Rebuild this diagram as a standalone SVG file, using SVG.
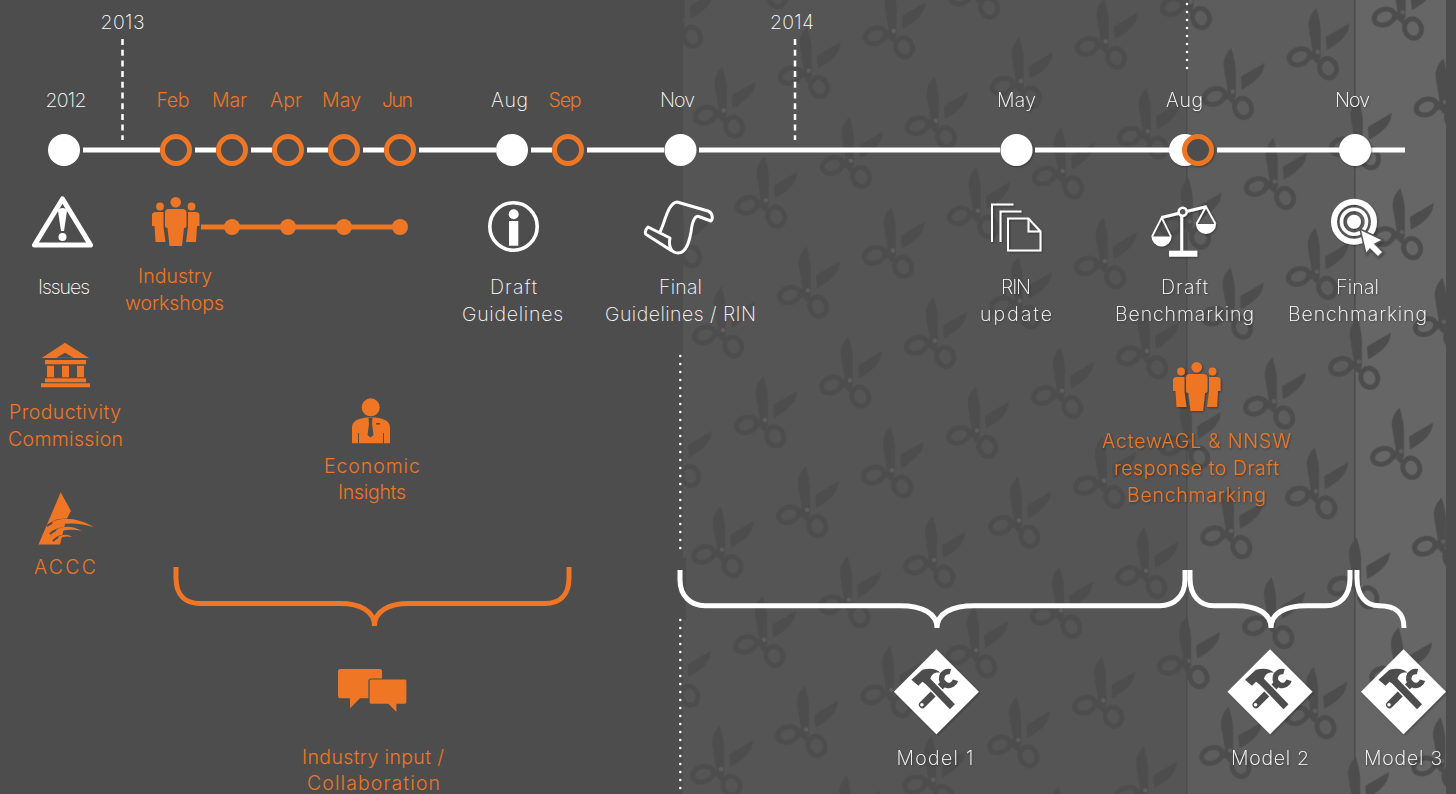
<svg xmlns="http://www.w3.org/2000/svg" width="1456" height="794" viewBox="0 0 1456 794">
<style>
text{font-family:"Inter","Lato","Liberation Sans",sans-serif;font-weight:200;font-size:19.5px;text-anchor:middle}
.w{fill:#fff}.o{fill:#ee7624;font-weight:300}
.line{fill:none;stroke:#fff;stroke-width:5}
.brace{fill:none;stroke-width:5}
.dash{fill:none;stroke:#fff;stroke-width:2.5;stroke-dasharray:6 4.7}
.dot{fill:none;stroke:#fff;stroke-width:2.6;stroke-dasharray:0 8;stroke-linecap:round}
.nw{fill:#fff}.no{fill:none;stroke:#ee7624;stroke-width:5}
.sh{filter:url(#shadow)}
.st{fill:none;stroke:#fff}
</style>
<defs>
<filter id="shadow" x="-20%" y="-20%" width="140%" height="140%"><feDropShadow dx="1" dy="1" stdDeviation="0.8" flood-color="#000" flood-opacity="0.35"/></filter>
<pattern id="sc" patternUnits="userSpaceOnUse" width="93.8" height="99.3" patternTransform="translate(765 420) rotate(-25.06) translate(-46.9 -49.65)">
<g transform="translate(46.9 49.65) rotate(25.06)">
<path fill="#4d4d4d" d="M-1.3-44C-7-38-10-32-9-24L-4 6C-2 9 2 8 3 5L3-22C3-30 0-38-1.3-44Z"/>
<path fill="#4d4d4d" d="M9-2L8-15L32-29C31-18 25-11 9-2Z"/>
<path fill="none" stroke="#4d4d4d" stroke-width="5" d="M-3 6L1 10"/>
<ellipse cx="10.3" cy="16.3" rx="8.4" ry="9.8" transform="rotate(-18 10.3 16.3)" fill="none" stroke="#4d4d4d" stroke-width="5"/>
<ellipse cx="-18.3" cy="4.8" rx="10.5" ry="7.6" transform="rotate(-20 -18.3 4.8)" fill="none" stroke="#4d4d4d" stroke-width="5"/>
<path fill="#4d4d4d" d="M-9 0L-2-2L0 6L-8 8Z"/>
<circle r="2.2" fill="#5f5f5f"/>
</g>
</pattern>
<symbol id="people" viewBox="0 0 48 49" width="48" height="49" overflow="visible">
<circle cx="23.7" cy="5.3" r="5.3"/>
<path d="M16 12H31Q34.5 12.5 34.5 16V29Q34.5 31 32 31L30 49H17.5L15.500 31Q13 31 13 29V16Q13 12.500 16 12Z"/>
<circle cx="8" cy="9.5" r="3.9"/>
<path d="M3 15H11.5V30L13.5 45H3.5L2.5 29H0V18Q0 15.5 3 15Z"/>
<circle cx="39.5" cy="9.5" r="3.9"/>
<path d="M36 15H44.5Q47.5 15.5 47.5 18V29H45L44 45H34L36 30Z"/>
</symbol>
<g id="tool">
<path fill="#fff" d="M0-42.5L42.5 0L0 42.5L-42.5 0Z"/>
<path fill="none" stroke="#4d4d4d" stroke-width="7" stroke-linecap="round" d="M-14 13L7-8"/>
<path fill="none" stroke="#4d4d4d" stroke-width="5.5" d="M14-20A7 7 0 1 0 19-11.500"/>
<path fill="none" stroke="#fff" stroke-width="10" d="M-8-10L16 15"/>
<path fill="none" stroke="#4d4d4d" stroke-width="7" d="M-10-12L16 15"/>
<path fill="#4d4d4d" d="M-25-12L-14-22C-6-24 0-23 4-19C-2-20-5-17-6-13L-11-8L-14-10L-18-6Z"/>
<circle cx="-14.500" cy="13" r="1.800" fill="#fff"/>
</g>
</defs>

<rect id="background" width="1456" height="794" fill="#4d4d4d"/>
<rect x="683" y="0" width="504" height="794" fill="#555"/>
<rect x="1187" y="0" width="168" height="794" fill="#5d5d5d"/>
<rect x="1355" y="0" width="91" height="794" fill="#666"/>
<rect x="683" y="0" width="763" height="794" fill="url(#sc)"/>
<rect x="1186" y="0" width="1.6" height="794" fill="#4d4d4d"/>
<rect x="1354" y="0" width="1.6" height="794" fill="#4d4d4d"/>
<rect x="640" y="558" width="46" height="62" fill="#4d4d4d"/>

<g id="connectors">
<path class="dash" d="M122.5 39V140M795 39V140"/>
<path class="dot" d="M680.3 356V556M680.3 620V794M1187 4V69"/>
<path class="line" d="M83 150H160M195 150H216M251 150H272M307 150H328M363 150H384M419 150H496M531 150H552M587 150H664M699 150H1000M1035 150H1170M1217 150H1405"/>
<path fill="none" stroke="#ee7624" stroke-width="5" d="M201 227H400"/>
<path class="brace" stroke="#ee7624" d="M176 567V578C176 596 186 603.500 200 603.500H340C360 603.500 374.500 611 374.500 626M374.500 626C374.500 611 389 603.500 409 603.500H545C559 603.500 569 596 569 578V567"/>
<path class="brace" stroke="#fff" d="M680 570V580C680 596 691 605.700 705 605.700H900C922 605.700 937 613 937 628M937 628C937 613 952 605.700 974 605.700H1160C1174 605.700 1185 596 1185 580V570"/>
<path class="brace" stroke="#fff" d="M1190 570V578C1190 596 1200 605.700 1214 605.700H1235C1257 605.700 1271 613 1271 628M1271 628C1271 613 1285 605.700 1307 605.700H1326C1340 605.700 1350 596 1350 578V570"/>
<path class="brace" stroke="#fff" d="M1357 570V578C1357 596 1366 605.700 1379 605.700C1395 605.700 1404 612 1404 628"/>
</g>

<g id="n-2012"><circle class="nw" cx="64" cy="150" r="16"/><text class="w" x="66" y="107" textLength="41">2012</text></g>
<g id="n-2013"><text class="w" x="122.5" y="29" textLength="44">2013</text></g>
<g id="n-feb"><circle class="no" cx="176" cy="150" r="13.5"/><text class="o" x="173" y="107" textLength="33">Feb</text></g>
<g id="n-mar"><circle class="no" cx="232" cy="150" r="13.5"/><text class="o" x="229.5" y="107" textLength="35">Mar</text></g>
<g id="n-apr"><circle class="no" cx="288" cy="150" r="13.5"/><text class="o" x="286" y="107" textLength="32">Apr</text></g>
<g id="n-may13"><circle class="no" cx="344" cy="150" r="13.5"/><text class="o" x="341.5" y="107" textLength="39">May</text></g>
<g id="n-jun"><circle class="no" cx="400" cy="150" r="13.5"/><text class="o" x="397.5" y="107" textLength="31">Jun</text></g>
<g id="n-aug13"><circle class="nw" cx="512" cy="150" r="16"/><text class="w" x="509.5" y="107" textLength="37">Aug</text></g>
<g id="n-sep"><circle class="no" cx="568" cy="150" r="13.5"/><text class="o" x="565" y="107" textLength="33">Sep</text></g>
<g id="n-nov13"><circle class="nw" cx="680.5" cy="150" r="16"/><text class="w" x="677.5" y="107" textLength="35">Nov</text></g>
<g id="n-2014"><text class="w" x="792" y="29" textLength="44">2014</text></g>
<g id="n-may14" class="sh"><circle class="nw" cx="1016.5" cy="150" r="16"/><text class="w" x="1016.5" y="107" textLength="39">May</text></g>
<g id="n-aug14" class="sh"><circle class="nw" cx="1185" cy="150" r="16"/><circle cx="1198" cy="150" r="13.5" fill="#4d4d4d" stroke="#ee7624" stroke-width="5"/><text class="w" x="1184.5" y="107" textLength="37">Aug</text></g>
<g id="n-nov14" class="sh"><circle class="nw" cx="1355" cy="150" r="16"/><text class="w" x="1352.5" y="107" textLength="35">Nov</text></g>

<g id="issues">
<path d="M62.5 199L90.5 245H34.5Z" fill="none" stroke="#fff" stroke-width="5" stroke-linejoin="round"/>
<path fill="#fff" d="M58 211C58 207 67 207 67 211L64 231H61Z"/><circle cx="62.5" cy="237" r="4" fill="#fff"/>
<text class="w" x="64" y="294" textLength="52">Issues</text>
</g>
<g id="industry-workshops">
<use href="#people" x="152" y="197" fill="#ee7624"/>
<g fill="#ee7624"><circle cx="232" cy="227" r="8"/><circle cx="288" cy="227" r="8"/><circle cx="344" cy="227" r="8"/><circle cx="400" cy="227" r="8"/></g>
<text class="o" x="175" y="283" textLength="74">Industry</text>
<text class="o" x="174.5" y="310" textLength="99">workshops</text>
</g>
<g id="draft-guidelines">
<circle class="st" cx="513.5" cy="226.5" r="23.7" stroke-width="3.6"/>
<circle cx="513.7" cy="214.3" r="5" fill="#fff"/><rect x="509" y="221" width="9.3" height="24.7" fill="#fff"/>
<text class="w" x="513.5" y="294" textLength="47">Draft</text>
<text class="w" x="512.5" y="321" textLength="101">Guidelines</text>
</g>
<g id="final-guidelines">
<path class="st" stroke-width="3" stroke-linejoin="round" d="M660 232C665 222 668 203 677 202L708 211C713 213 713 219 711 221L700 217C695 214 692 222 691 232C689 243 686 253 678 253C672 253 668 247 670 238L648 227C644 231 645 234 647 235L672 251"/>
<text class="w" x="680.5" y="294" textLength="43">Final</text>
<text class="w" x="680.5" y="321" textLength="151">Guidelines / RIN</text>
</g>
<g id="rin-update" class="sh">
<path class="st" stroke-width="2" d="M992 242V204.500H1013.500M1000.500 242V211.500H1021.500M1008 218.500V250.500H1040.500V231.500L1028.500 218.500ZM1028.500 218.500V231.500H1040.500"/>
<text class="w" x="1016" y="294" textLength="30">RIN</text>
<text class="w" x="1016" y="321" textLength="72">update</text>
</g>
<g id="draft-benchmarking" class="sh">
<path class="st" stroke-width="3" d="M1181.700 216V252M1161.700 217.500L1206 206.700"/>
<rect x="1169" y="250.700" width="28.300" height="6" fill="#fff"/>
<circle cx="1182.700" cy="211.700" r="4" fill="#555" stroke="#fff" stroke-width="2.500"/>
<path class="st" stroke-width="1.800" d="M1152 236.700L1161.700 217.500L1171 236.700M1196.500 224L1206 206.700L1215.500 224"/>
<path fill="#fff" d="M1151.500 236.500H1171.500A10 10 0 0 1 1151.500 236.500ZM1196 224H1216A10 10 0 0 1 1196 224Z"/>
<text class="w" x="1184.500" y="294" textLength="47">Draft</text>
<text class="w" x="1184.500" y="321" textLength="139">Benchmarking</text>
</g>
<g id="final-benchmarking" class="sh">
<circle class="st" cx="1354" cy="221.700" r="20" stroke-width="6"/>
<circle class="st" cx="1354" cy="221.700" r="12.500" stroke-width="3.500"/>
<circle cx="1354" cy="221.700" r="7" fill="#fff"/>
<path fill="#fff" stroke="#555" stroke-width="1.500" d="M1360 229L1383 240L1375 244L1383 252L1378 257L1370 249L1366 254Z"/>
<text class="w" x="1357.500" y="294" textLength="43">Final</text>
<text class="w" x="1357.500" y="321" textLength="139">Benchmarking</text>
</g>
<g id="productivity-commission" fill="#ee7624">
<path fill-rule="evenodd" d="M65 342.700L89 358H41.700ZM65 352.700L56.500 357.700H73.500Z"/>
<path d="M45 360H86V364.300H45ZM47 365.700H54V377.300H47ZM62 365.700H69V377.300H62ZM77 365.700H84V377.300H77ZM45 378.300H86V382.300H45ZM41 383.300H90V387.300H41Z"/>
<text class="o" x="65" y="419" textLength="112">Productivity</text>
<text class="o" x="65.500" y="446" textLength="115">Commission</text>
</g>
<g id="accc" fill="#ee7624">
<path d="M60.700 492.300L71 511L66 520L60 544.500H38.500Z"/>
<path fill="none" stroke="#4d4d4d" stroke-width="2" d="M47 526C56 519 64 519 72 520M50 534C56 528 64 528 70 529M53 541C58 536 63 535 68 537"/>
<path d="M52 522C64 516 80 519 93.500 527C80 523 66 522 54 526ZM56 530C64 525 73 526 82 531C73 529 64 529 57 533ZM58 537C63 534 68 534 72 537C67 536 63 536 59 539Z"/>
<text class="o" x="65" y="574" textLength="62">ACCC</text>
</g>
<g id="economic-insights" fill="#ee7624">
<circle cx="370.700" cy="407.300" r="9"/>
<path d="M361 418.500L366 417.500H376L381 418.500C387 420 390 423 390 428V443.300H352V428C352 423 355 420 361 418.500Z"/>
<path fill="#4d4d4d" d="M368.500 418H372.500L372 424L373.500 435L370.500 437.500L367.500 435L369 424ZM376 423H380V424.500H376ZM358 433H359V443.300H358ZM383 433H384V443.300H383Z"/>
<text class="o" x="372" y="473" textLength="96">Economic</text>
<text class="o" x="372" y="499" textLength="68">Insights</text>
</g>
<g id="industry-input" fill="#ee7624">
<path d="M340 669H380Q382 669 382 671V698.300H360L350 708.300V698.300H340Q338 698.300 338 696V671Q338 669 340 669Z"/>
<path stroke="#4d4d4d" stroke-width="1.200" d="M371 679H405Q407 679 407 681V702Q407 704.300 405 704.300H397V713.300L388 704.300H371Q369 704.300 369 702V681Q369 679 371 679Z"/>
<text class="o" x="373" y="764" textLength="142">Industry input /</text>
<text class="o" x="373.500" y="790" textLength="133">Collaboration</text>
</g>
<g id="actewagl-response" fill="#ee7624" class="sh">
<use href="#people" x="1173" y="362"/>
<text class="o" x="1196.500" y="448" textLength="189">ActewAGL &amp; NNSW</text>
<text class="o" x="1196.500" y="475" textLength="165">response to Draft</text>
<text class="o" x="1196.500" y="502" textLength="139">Benchmarking</text>
</g>
<g id="model-1" class="sh"><use href="#tool" x="936.400" y="691.700"/><text class="w" x="935" y="765" textLength="77">Model 1</text></g>
<g id="model-2" class="sh"><use href="#tool" x="1270" y="691.700"/><text class="w" x="1270" y="765" textLength="78">Model 2</text></g>
<g id="model-3" class="sh"><use href="#tool" x="1403.500" y="691.700"/><text class="w" x="1403" y="765" textLength="78">Model 3</text></g>
</svg>
